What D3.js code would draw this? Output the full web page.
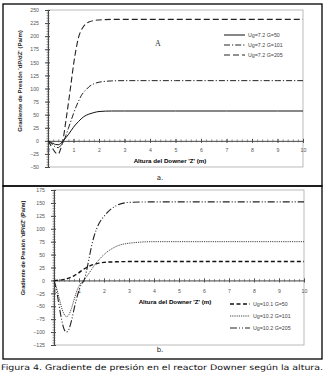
<!DOCTYPE html>
<html>
<head>
<meta charset="utf-8">
<script src="https://cdn.jsdelivr.net/npm/d3@7"></script>
<style>
  body { margin: 0; background: #fff; }
  svg { display: block; }
</style>
</head>
<body>
<div id="canvas"></div>
<script>
// panel a data
const zA = [0, 0.1, 0.2, 0.3, 0.4, 0.5, 0.6, 0.7, 0.8, 0.9, 1.0, 1.1, 1.2, 1.3, 1.4, 1.5, 1.6, 1.8, 2.0, 2.5, 3, 4, 5, 6, 7, 8, 9, 10];
const a_G50 = [0, -3, -5, -7, -7.5, -5, 0, 6, 12, 19, 26, 32, 37, 42, 46, 49, 51, 54, 56, 57, 57, 57, 57, 57, 57, 57, 57, 57];
const a_G101 = [0, -4, -8, -12, -13, -9, -2, 10, 24, 38, 52, 65, 76, 86, 93, 98, 103, 109, 112, 114.5, 115, 115, 115, 115, 115, 115, 115, 115];
const a_G205 = [0, -8, -16, -23, -25, -15, 5, 38, 72, 108, 145, 175, 198, 211, 219, 224, 227, 230, 231, 232, 232, 232, 232, 232, 232, 232, 232, 232];
const labelsA = ["Ug=7.2  G=50", "Ug=7.2  G=101", "Ug=7.2  G=205"];
const yTicksA = d3.range(-50, 251, 25);

// panel b data
const zB = [0, 0.1, 0.2, 0.3, 0.4, 0.5, 0.6, 0.7, 0.8, 0.9, 1.0, 1.1, 1.2, 1.3, 1.4, 1.5, 1.6, 1.8, 2.0, 2.5, 3, 4, 5, 6, 7, 8, 9, 10];
const b_G50 = [0, 0, 0.5, 1, 2, 3, 4.5, 6.5, 9, 12, 15, 19, 22, 25, 27.5, 29.5, 31, 33.5, 35, 36, 36.5, 36.5, 36.5, 36.5, 36.5, 36.5, 36.5, 36.5];
const b_G101 = [0, -14, -33, -52, -65, -70, -66, -54, -38, -22, -11, -4, 1, 7, 14, 21, 28, 40, 50, 66, 72, 75, 75, 75, 75, 75, 75, 75];
const b_G205 = [0, -20, -47, -75, -94, -100, -94, -78, -56, -36, -19, -7, 0, 18, 42, 66, 85, 110, 124, 145, 151, 152, 152, 152, 152, 152, 152, 152];
const labelsB = ["Ug=10.1  G=50", "Ug=10.2  G=101", "Ug=10.2  G=205"];
const yTicksB = d3.range(-125, 176, 25);

const xTicks = d3.range(0, 11, 1);
const xTitle = "Altura del Downer 'Z' (m)";
const yTitle = "Gradiente de Presión 'dP/dZ'  (Pa/m)";
const caption = "Figura 4.  Gradiente de presión en el reactor Downer según la altura.";

const width = 326;
const height = 377;

const svg = d3.select("#canvas").append("svg")
  .attr("width", width)
  .attr("height", height);

// outer frames
svg.append("rect").attr("x", 3).attr("y", 4).attr("width", 319).attr("height", 182)
  .attr("fill", "none").attr("stroke", "#000").attr("stroke-width", 1.3);
svg.append("rect").attr("x", 3).attr("y", 186).attr("width", 319).attr("height", 173)
  .attr("fill", "none").attr("stroke", "#000").attr("stroke-width", 1.3);

const drawPanel = (p) => {
  const x = d3.scaleLinear().domain([0, 10]).range([p.left, p.right]);
  const y = d3.scaleLinear().domain([p.yTicks[0], p.yTicks[p.yTicks.length - 1]]).range([p.bottom, p.top]);

  // plot area border
  svg.append("rect")
    .attr("x", p.left).attr("y", p.top)
    .attr("width", p.right - p.left).attr("height", p.bottom - p.top)
    .attr("fill", "none").attr("stroke", "#aaa").attr("stroke-width", 0.8);

  // y axis
  const ya = svg.append("g").attr("transform", `translate(${p.left},0)`);
  ya.call(d3.axisLeft(y).tickValues(p.yTicks).tickSize(3).tickPadding(6));
  ya.select(".domain").attr("stroke", "#444");
  ya.selectAll(".tick line").attr("x1", -3).attr("x2", 2).attr("stroke", "#444");
  ya.selectAll(".tick text").attr("fill", "#555")
    .style("font-family", "Liberation Sans, Arial, sans-serif").style("font-size", "5.2px");
  const yMinor = svg.append("g").attr("transform", `translate(${p.left},0)`);
  yMinor.call(d3.axisLeft(y).tickValues(d3.range(p.yTicks[0], p.yTicks[p.yTicks.length - 1] + 1, 5)).tickSize(0).tickFormat(""));
  yMinor.select(".domain").remove();
  yMinor.selectAll(".tick line").attr("x1", -1.5).attr("x2", 1.5).attr("stroke", "#555").attr("stroke-width", 0.6);

  // x axis at zero
  const xa = svg.append("g").attr("transform", `translate(0,${y(0)})`);
  xa.call(d3.axisBottom(x).tickValues(xTicks).tickSize(2).tickPadding(p.xPad).tickSizeOuter(0));
  xa.select(".domain").attr("stroke", "#444");
  xa.selectAll(".tick line").attr("y1", -2).attr("y2", 2).attr("stroke", "#444");
  xa.selectAll(".tick text").attr("fill", "#555")
    .style("font-family", "Liberation Sans, Arial, sans-serif").style("font-size", "5.2px");
  const xMinor = svg.append("g").attr("transform", `translate(0,${y(0)})`);
  xMinor.call(d3.axisBottom(x).tickValues(d3.range(0, 10.01, 0.2)).tickSize(0).tickFormat(""));
  xMinor.select(".domain").remove();
  xMinor.selectAll(".tick line").attr("y1", -1.5).attr("y2", 1.5).attr("stroke", "#555").attr("stroke-width", 0.6);

  // titles
  svg.append("text")
    .attr("x", p.xTitlePos[0]).attr("y", p.xTitlePos[1])
    .attr("text-anchor", "middle")
    .style("font-family", "Liberation Sans, Arial, sans-serif")
    .style("font-size", "6.2px").style("font-weight", "bold")
    .text(xTitle);
  svg.append("text")
    .attr("transform", `translate(${p.yTitlePos[0]},${p.yTitlePos[1]}) rotate(-90)`)
    .attr("text-anchor", "middle")
    .style("font-family", "Liberation Sans, Arial, sans-serif")
    .style("font-size", p.yTitleSize).style("font-weight", "bold")
    .attr("fill", "#222")
    .text(yTitle);

  // series
  const line = d3.line().x((d) => x(d[0])).y((d) => y(d[1])).curve(d3.curveMonotoneX);
  p.series.forEach((s) => {
    svg.append("path")
      .datum(p.z.map((z, i) => [z, s.values[i]]))
      .attr("d", line)
      .attr("fill", "none")
      .attr("stroke", s.color)
      .attr("stroke-width", s.width)
      .attr("stroke-dasharray", s.dash);
  });

  // legend
  p.series.forEach((s, i) => {
    const ly = p.legend[1] + i * p.legendStep;
    svg.append("line")
      .attr("x1", p.legend[0]).attr("x2", p.legend[0] + p.legendLen)
      .attr("y1", ly).attr("y2", ly)
      .attr("stroke", s.color).attr("stroke-width", s.width)
      .attr("stroke-dasharray", s.dash);
    svg.append("text")
      .attr("x", p.legend[0] + p.legendLen + 3).attr("y", ly + 1.8)
      .style("font-family", "Liberation Sans, Arial, sans-serif")
      .style("font-size", "5.3px").attr("fill", "#444")
      .text(s.label);
  });

  // panel tag
  svg.append("text")
    .attr("x", 160).attr("y", p.tagY)
    .attr("text-anchor", "middle")
    .style("font-family", "DejaVu Sans, sans-serif")
    .style("font-size", "7px").attr("fill", "#222")
    .text(p.tag);
};

drawPanel({
  left: 48, right: 303, top: 10, bottom: 167,
  yTicks: yTicksA, z: zA, xPad: 5,
  xTitlePos: [170, 163], yTitlePos: [22, 81], yTitleSize: "6px",
  legend: [224, 35], legendStep: 10, legendLen: 21,
  tag: "a.", tagY: 180,
  series: [
    { values: a_G50, label: labelsA[0], color: "#111", width: 1, dash: null },
    { values: a_G101, label: labelsA[1], color: "#222", width: 1, dash: "6,2,1.2,2" },
    { values: a_G205, label: labelsA[2], color: "#222", width: 1.1, dash: "6,3" }
  ]
});

drawPanel({
  left: 54, right: 304, top: 190, bottom: 345,
  yTicks: yTicksB, z: zB, xPad: 7,
  xTitlePos: [175, 304], yTitlePos: [25, 248], yTitleSize: "5.6px",
  legend: [230, 304], legendStep: 12, legendLen: 20,
  tag: "b.", tagY: 352,
  series: [
    { values: b_G50, label: labelsB[0], color: "#111", width: 1.4, dash: "4,2.5" },
    { values: b_G101, label: labelsB[1], color: "#444", width: 1, dash: "1.2,1" },
    { values: b_G205, label: labelsB[2], color: "#222", width: 1.1, dash: "7,2,1,2,1,2" }
  ]
});

// "A" label in panel a
svg.append("text")
  .attr("x", 158).attr("y", 46)
  .attr("text-anchor", "middle")
  .style("font-family", "Liberation Serif, serif")
  .style("font-size", "8px").attr("fill", "#333")
  .text("A");

// caption
svg.append("text")
  .attr("x", 1).attr("y", 370)
  .attr("textLength", 322).attr("lengthAdjust", "spacingAndGlyphs")
  .style("font-family", "DejaVu Sans, sans-serif")
  .style("font-size", "7.6px").attr("fill", "#111")
  .text(caption);
</script>
</body>
</html>
